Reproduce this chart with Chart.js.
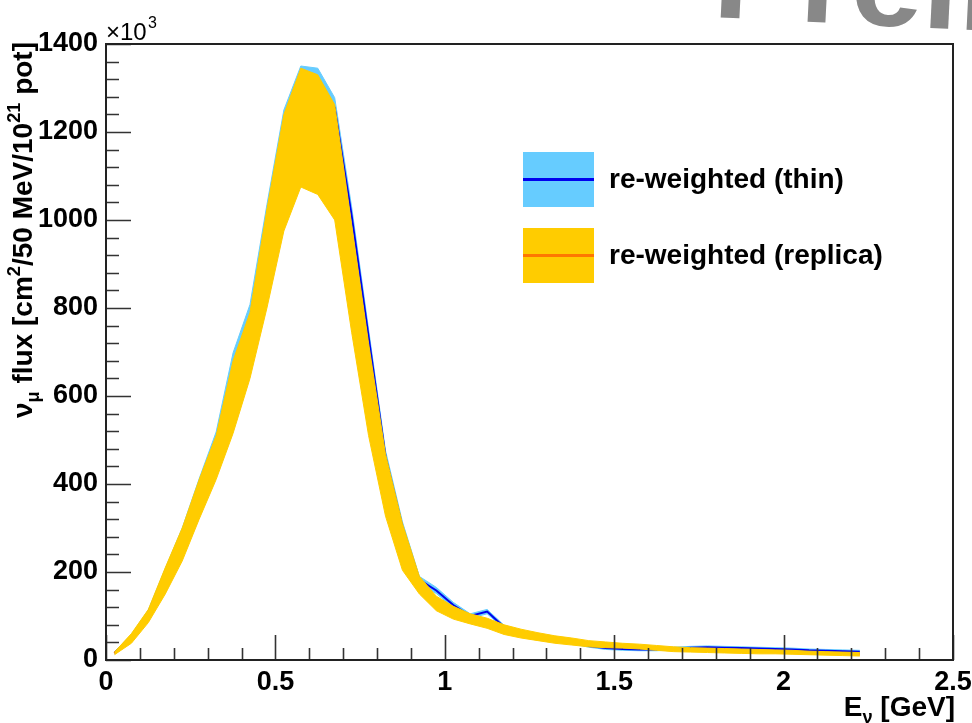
<!DOCTYPE html>
<html>
<head>
<meta charset="utf-8">
<script src="https://cdn.jsdelivr.net/npm/chart.js@4.4.1/dist/chart.umd.min.js"></script>
<style>
  html, body { margin: 0; padding: 0; background: #fff; }
  #wrap { width: 972px; height: 723px; }
</style>
</head>
<body>
<div id="wrap"><canvas id="fluxChart" width="972" height="723"></canvas></div>
<script>
// neutrino energy, bin centres (GeV)
const energy = [0.025, 0.075, 0.125, 0.175, 0.225, 0.275, 0.325, 0.375, 0.425, 0.475,
  0.525, 0.575, 0.625, 0.675, 0.725, 0.775, 0.825, 0.875, 0.925, 0.975,
  1.025, 1.075, 1.125, 1.175, 1.225, 1.275, 1.325, 1.375, 1.425, 1.475,
  1.525, 1.575, 1.625, 1.675, 1.725, 1.775, 1.825, 1.875, 1.925, 1.975,
  2.025, 2.075, 2.125, 2.175, 2.225];

// re-weighted (replica) band, x10^3
const replicaHi = [18, 60, 115, 210, 300, 410, 510, 680, 790, 1025,
  1240, 1345, 1330, 1262, 990, 720, 468, 310, 190, 145,
  122, 105, 95, 80, 70, 62, 55, 50, 44, 41,
  38, 36, 33, 30, 28, 27, 26, 25, 24, 23,
  22, 20, 19, 18, 17];
const replicaLo = [12, 38, 85, 150, 225, 320, 410, 515, 640, 800,
  975, 1075, 1058, 1000, 745, 510, 327, 204, 150, 112,
  93, 82, 72, 58, 50, 44, 38, 34, 30, 28,
  27, 25, 22, 19, 18, 17, 16, 15, 14, 14,
  13, 12, 11, 10, 9];
const replicaMid = [15, 49, 100, 180, 262, 365, 460, 598, 715, 912,
  1108, 1210, 1194, 1131, 868, 615, 398, 257, 168, 128,
  107, 93, 84, 69, 60, 53, 46, 42, 37, 34,
  32, 30, 27, 24, 23, 22, 21, 20, 19, 18,
  17, 16, 15, 14, 13];

// re-weighted (thin) band, x10^3
const thinHi = [19, 58, 114, 208, 300, 412, 518, 698, 808, 1035,
  1250, 1350, 1345, 1278, 1030, 752, 476, 314, 190, 165,
  131, 105, 115, 79, 66, 58, 50, 43, 35, 30,
  28, 27, 27, 29, 31, 32, 31, 30, 29, 28,
  27, 25, 24, 23, 22];
const thinLo = [14, 48, 102, 192, 276, 378, 472, 626, 732, 955,
  1170, 1310, 1300, 1232, 990, 718, 448, 290, 174, 151,
  119, 95, 105, 71, 60, 52, 44, 37, 29, 24,
  22, 21, 21, 23, 25, 26, 25, 24, 23, 22,
  21, 19, 18, 17, 16];
const thinMid = [16, 53, 108, 200, 288, 395, 495, 662, 770, 995,
  1210, 1330, 1322, 1255, 1010, 735, 462, 302, 182, 158,
  125, 100, 110, 75, 63, 55, 47, 40, 32, 27,
  25, 24, 24, 26, 28, 29, 28, 27, 26, 25,
  24, 22, 21, 20, 19];

const xTicks = [0, 0.5, 1, 1.5, 2, 2.5];
const yTicks = [0, 200, 400, 600, 800, 1000, 1200, 1400];

const FONT = '"Liberation Sans", Arial, Helvetica, sans-serif';
const BLUE_FILL = '#66ccff';
const BLUE_LINE = '#0000ee';
const GOLD_FILL = '#ffcc00';
const ORANGE_LINE = '#ff7700';

function pts(arr) {
  return energy.map((e, i) => ({ x: e, y: arr[i] }));
}

// text made of pieces, some raised or lowered
function richWidth(ctx, parts, size) {
  let w = 0;
  parts.forEach(p => {
    const s = p.sup || p.sub ? size * 0.65 : size;
    ctx.font = 'bold ' + s + 'px ' + FONT;
    w += ctx.measureText(p.t).width;
  });
  return w;
}
function richDraw(ctx, parts, x, y, size) {
  parts.forEach(p => {
    const s = p.sup || p.sub ? size * 0.65 : size;
    ctx.font = 'bold ' + s + 'px ' + FONT;
    let dy = 0;
    if (p.sup) dy = -size * 0.42;
    if (p.sub) dy = size * 0.25;
    ctx.fillText(p.t, x, y + dy);
    x += ctx.measureText(p.t).width;
  });
}

const rootFrame = {
  id: 'rootFrame',
  afterDraw(chart) {
    const { ctx, chartArea: a, scales: { x, y } } = chart;
    ctx.save();

    // ticks inside the frame
    ctx.strokeStyle = '#333';
    ctx.lineWidth = 1.6;
    ctx.beginPath();
    for (let v = 0; v <= 1400; v += 40) {
      const py = Math.round(y.getPixelForValue(v)) + 0.5;
      const len = v % 200 === 0 ? 25 : 13;
      ctx.moveTo(a.left, py);
      ctx.lineTo(a.left + len, py);
    }
    for (let i = 0; i <= 25; i++) {
      const px = Math.round(x.getPixelForValue(i / 10)) + 0.5;
      const len = i % 5 === 0 ? 25 : 12;
      ctx.moveTo(px, a.bottom);
      ctx.lineTo(px, a.bottom - len);
    }
    ctx.stroke();

    // frame
    ctx.lineWidth = 2;
    ctx.strokeStyle = '#222';
    ctx.strokeRect(a.left, a.top, a.right - a.left, a.bottom - a.top);

    // exponent
    ctx.fillStyle = '#000';
    ctx.textBaseline = 'alphabetic';
    ctx.textAlign = 'left';
    ctx.font = '24px ' + FONT;
    ctx.fillText('\u00d710', 106, 40);
    ctx.font = '16px ' + FONT;
    ctx.fillText('3', 148, 28);

    // y title
    const yParts = [
      { t: '\u03bd' }, { t: '\u03bc', sub: true }, { t: ' flux [cm' }, { t: '2', sup: true },
      { t: '/50 MeV/10' }, { t: '21', sup: true }, { t: ' pot]' }
    ];
    ctx.save();
    ctx.translate(32, 42);
    ctx.rotate(-Math.PI / 2);
    const yw = richWidth(ctx, yParts, 28);
    richDraw(ctx, yParts, -yw, 0, 28);
    ctx.restore();

    // x title
    const xParts = [{ t: 'E' }, { t: '\u03bd', sub: true }, { t: ' [GeV]' }];
    const xw = richWidth(ctx, xParts, 28);
    richDraw(ctx, xParts, a.right + 2 - xw, 716, 28);

    // legend
    const rows = [
      { fill: BLUE_FILL, line: BLUE_LINE, text: 're-weighted (thin)', y: 152 },
      { fill: GOLD_FILL, line: ORANGE_LINE, text: 're-weighted (replica)', y: 228 }
    ];
    rows.forEach(r => {
      ctx.fillStyle = r.fill;
      ctx.fillRect(523, r.y, 71, 55);
      ctx.fillStyle = r.line;
      ctx.fillRect(523, r.y + 26, 71, 3);
      ctx.fillStyle = '#000';
      ctx.font = 'bold 28px ' + FONT;
      ctx.textBaseline = 'middle';
      ctx.fillText(r.text, 609, r.y + 28);
    });

    // watermark, clipped at the top edge
    ctx.textBaseline = 'alphabetic';
    ctx.fillStyle = '#888';
    ctx.font = 'bold 130px ' + FONT;
    ctx.save();
    ctx.translate(712, 17);
    ctx.rotate(0.05);
    ctx.fillText('Preliminary', 0, 0);
    ctx.restore();

    ctx.restore();
  }
};

const bandLine = { pointRadius: 0, tension: 0, fill: false };

new Chart(document.getElementById('fluxChart'), {
  type: 'line',
  data: {
    datasets: [
      { ...bandLine, label: 'replica hi', data: pts(replicaHi), fill: '+1',
        backgroundColor: GOLD_FILL, borderColor: GOLD_FILL, borderWidth: 1 },
      { ...bandLine, label: 'replica lo', data: pts(replicaLo),
        borderColor: GOLD_FILL, borderWidth: 1 },
      { ...bandLine, label: 're-weighted (replica)', data: pts(replicaMid),
        borderColor: ORANGE_LINE, borderWidth: 2.5 },
      { ...bandLine, label: 're-weighted (thin)', data: pts(thinMid),
        borderColor: BLUE_LINE, borderWidth: 2 },
      { ...bandLine, label: 'thin hi', data: pts(thinHi), fill: '+1',
        backgroundColor: BLUE_FILL, borderColor: BLUE_FILL, borderWidth: 1 },
      { ...bandLine, label: 'thin lo', data: pts(thinLo),
        borderColor: BLUE_FILL, borderWidth: 1 }
    ]
  },
  options: {
    responsive: false,
    animation: false,
    layout: { padding: { top: 44, right: 19, left: 0, bottom: 0 } },
    plugins: {
      legend: { display: false },
      tooltip: { enabled: false }
    },
    scales: {
      x: {
        type: 'linear', min: 0, max: 2.5,
        afterFit: s => { s.height = 63; s.paddingLeft = 0; s.paddingRight = 0; },
        afterBuildTicks: s => { s.ticks = xTicks.map(v => ({ value: v })); },
        grid: { display: false, drawTicks: false },
        border: { display: false },
        ticks: {
          color: '#000', padding: 6, maxRotation: 0, autoSkip: false,
          font: { family: FONT, weight: 'bold', size: 27 },
          callback: v => String(v)
        }
      },
      y: {
        min: 0, max: 1400,
        afterFit: s => { s.width = 106; s.paddingTop = 0; s.paddingBottom = 0; },
        afterBuildTicks: s => { s.ticks = yTicks.map(v => ({ value: v })); },
        grid: { display: false, drawTicks: false },
        border: { display: false },
        ticks: {
          color: '#000', padding: 8, autoSkip: false,
          font: { family: FONT, weight: 'bold', size: 27 },
          callback: v => String(v)
        }
      }
    }
  },
  plugins: [rootFrame]
});
</script>
</body>
</html>
